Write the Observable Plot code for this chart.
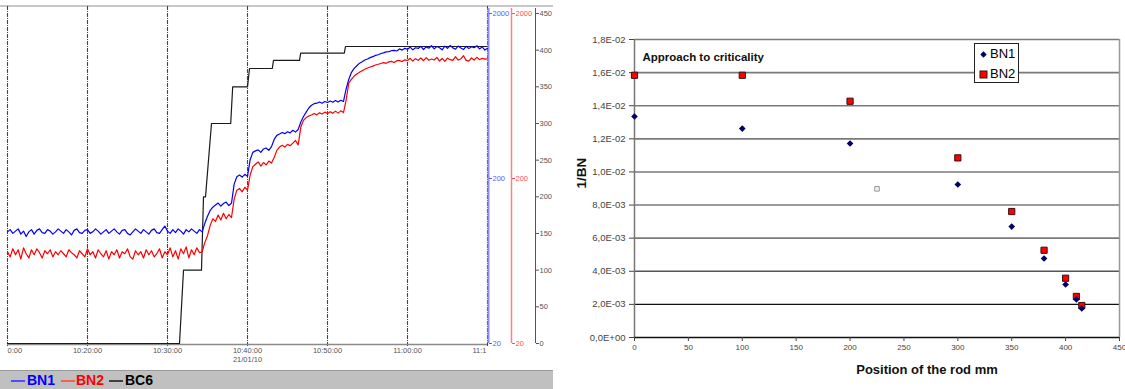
<!DOCTYPE html>
<html><head><meta charset="utf-8">
<script src="https://cdn.jsdelivr.net/npm/d3@7"></script>
<script src="https://cdn.jsdelivr.net/npm/@observablehq/plot@0.6"></script>
<style>
html,body{margin:0;padding:0;background:#fff;}
body{width:1125px;height:389px;position:relative;overflow:hidden;font-family:"Liberation Sans",Arial,sans-serif;}
#left{position:absolute;left:0;top:0;width:553px;height:389px;}
#left svg{position:absolute;left:0;top:0;}
#topline{position:absolute;left:0;top:5px;width:553px;height:2px;background:#c8c8c8;}
#band{position:absolute;left:0;top:370px;width:553px;height:19px;background:#c0c0c0;border-top:1px solid #9a9a9a;box-sizing:border-box;}
#band .ln{position:absolute;top:9px;height:1.5px;width:14px;}
#band .tx{position:absolute;top:1px;font-weight:bold;font-size:14px;line-height:16px;}
#right{position:absolute;left:553px;top:0;width:572px;height:389px;}
#right svg{position:absolute;left:0;top:0;}
#legend{position:absolute;left:974px;top:43px;width:45px;height:40px;border:1px solid #222;background:#fff;box-sizing:border-box;font-size:13px;color:#000;}
#legend .row{position:absolute;left:4px;height:16px;line-height:16px;}
#legend svg{vertical-align:middle;margin-right:2px;}
</style></head>
<body>
<div id="left"><div id="topline"></div><div id="band"></div></div>
<div id="right"></div>
<div id="legend"></div>
<script>
// ---------- Left chart data ----------
const xTickTimes = ["10:10:00","10:20:00","10:30:00","10:40:00","10:50:00","11:00:00","11:10:00"];
const xTickLabels = ["0:00","10:20:00","10:30:00","10:40:00","10:50:00","11:00:00","11:1"];
const dateLabel = "21/01/10";
const sampleStart = "10:10:00";
const sampleStepSeconds = 20;
const bn1Counts = [
 95,98,93,96,99,92,96,89,95,98,
 92,97,99,94,93,98,96,92,95,99,
 96,93,98,95,91,97,99,94,93,97,
 98,93,95,99,96,92,95,98,93,96,
 99,95,92,97,98,93,91,95,99,96,
 93,98,95,92,97,99,94,93,98,103,
 96,93,98,94,99,96,92,98,95,99,
 96,93,98,95,107,118,128,134,138,142,
 136,141,144,137,142,185,205,210,204,212,
 206,260,288,294,298,288,302,306,296,312,
 345,365,372,380,374,384,378,392,382,396,
 440,475,505,535,556,568,572,582,572,586,
 578,590,580,594,582,596,586,700,800,880,
 930,965,1000,1020,1045,1060,1080,1095,1115,1125,
 1145,1155,1170,1175,1190,1195,1185,1220,1200,1230,
 1215,1250,1205,1240,1228,1265,1210,1255,1232,1275,
 1220,1262,1240,1205,1268,1230,1280,1238,1215,1270,
 1235,1210,1265,1225,1258,1240,1275,1220,1255,1200,
 1230];
const bn2Counts = [
 72,67,75,69,74,65,76,70,66,74,
 69,75,71,66,73,70,74,67,72,69,
 73,70,67,74,71,69,66,73,70,67,
 75,69,72,66,74,70,67,73,65,72,
 69,74,66,72,70,75,67,65,73,69,
 72,66,74,69,73,67,70,75,66,72,
 69,76,67,73,65,75,70,77,66,74,
 69,76,71,72,82,90,104,114,110,120,
 112,123,114,121,116,150,170,174,166,177,
 170,210,236,244,252,238,250,242,255,248,
 268,296,310,318,310,322,316,328,340,320,
 410,450,468,478,485,495,486,500,492,505,
 495,508,497,512,498,514,502,600,760,800,
 835,860,880,900,918,935,948,960,975,985,
 996,1008,998,1018,1025,1010,1035,1038,1022,1048,
 1038,1070,1030,1065,1040,1075,1035,1080,1042,1060,
 1045,1085,1030,1068,1025,1072,1050,1040,1095,1045,
 1060,1110,1040,1030,1075,1045,1085,1050,1070,1058,
 1062];
const bc6Times = ["10:10:00","10:31:30","10:32:00","10:34:15","10:34:30","10:34:45","10:35:30","10:37:54","10:38:09","10:40:00","10:40:15","10:43:06","10:43:15","10:46:30","10:46:39","10:52:06","10:52:15","11:10:00"];
const bc6Values = [0,0,100,100,200,200,300,300,350,350,375,375,386,386,396,396,405,405];
const logTicks = [20,200,2000];
const bc6Ticks = [0,50,100,150,200,250,300,350,400,450];
const seriesNames = ["BN1","BN2","BC6"];
const seriesColors = ["#0000ff","#ff0000","#1a1a1a"];

// ---------- Right chart data ----------
const rodPosition = [0,100,200,300,350,380,400,410,415];
const invBN1 = [0.01335,0.01262,0.01172,0.00924,0.00670,0.00477,0.00320,0.00230,0.00175];
const invBN2 = [0.01584,0.01584,0.01427,0.01085,0.00761,0.00527,0.00358,0.00248,0.00193];
const strayPosition = [225];
const strayValue = [0.00898];
const yTicks = [0,0.002,0.004,0.006,0.008,0.010,0.012,0.014,0.016,0.018];
const yTickLabels = ["0,0E+00","2,0E-03","4,0E-03","6,0E-03","8,0E-03","1,0E-02","1,2E-02","1,4E-02","1,6E-02","1,8E-02"];
const xTicks = [0,50,100,150,200,250,300,350,400,450];
const chartTitle = "Approach to criticality";
const yTitle = "1/BN";
const xTitle = "Position of the rod mm";

// ---------- Left chart ----------
const parseT = s => new Date(`2010-01-21T${s}Z`);
const t0 = parseT(sampleStart);
const MIN = 60000;
const tickDates = xTickTimes.map(parseT);
const tickLabelData = tickDates.map((t,i)=>({t, label:xTickLabels[i]}));
const bn1 = bn1Counts.map((v,i)=>({t:new Date(+t0 + i*sampleStepSeconds*1000), v}));
const bn2 = bn2Counts.map((v,i)=>({t:new Date(+t0 + i*sampleStepSeconds*1000), v}));
const bc6 = bc6Times.map((s,i)=>({t:parseT(s), v:bc6Values[i]}));
const font = "Liberation Sans, Arial, sans-serif";
const common = {width:553, height:368, marginLeft:7, marginTop:13, marginBottom:25,
  style:{background:"transparent", fontFamily:font, overflow:"visible"}};
const tEnd = tickDates[tickDates.length-1];
const lblOpts = {x:"t", text:"label", frameAnchor:"bottom", dy:9, fontSize:7.5, fill:"#555"};

const svgA = Plot.plot({...common, marginRight:18,
  x:{type:"utc", domain:[t0, new Date(+t0 + 66*MIN)], axis:null},
  y:{domain:[0,450]},
  marks:[
    Plot.ruleX(tickDates, {stroke:"#444", strokeWidth:1.1, strokeDasharray:"4,1,1,1", insetTop:-7, insetBottom:-4}),
    Plot.ruleY([0], {x1:t0, x2:tEnd, stroke:"#8a8a8a", strokeWidth:1.5, dy:1}),
    Plot.text(tickLabelData.slice(0,1), {...lblOpts, textAnchor:"start"}),
    Plot.text(tickLabelData.slice(1,-1), {...lblOpts, textAnchor:"middle"}),
    Plot.text(tickLabelData.slice(-1), {...lblOpts, textAnchor:"end", dx:-1}),
    Plot.text([dateLabel], {text:d=>d, x:tickDates[3], frameAnchor:"bottom", dy:18.5, fontSize:7.5, fill:"#555"}),
    Plot.ruleX([new Date(+t0 + 66*MIN)], {stroke:"#555", strokeWidth:1, insetTop:-5}),
    Plot.axisY(bc6Ticks, {anchor:"right", tickSize:3, tickPadding:1, fontSize:7.5, color:"#555", label:null}),
    Plot.line(bc6, {x:"t", y:"v", stroke:seriesColors[2], strokeWidth:1.2})
  ]});
const svgC = Plot.plot({...common, marginRight:42,
  x:{type:"utc", domain:[t0, new Date(+t0 + 63*MIN)], axis:null},
  y:{type:"log", domain:[20,2000]},
  marks:[
    Plot.ruleX([new Date(+t0 + 63*MIN)], {stroke:"#ff8080", strokeWidth:1.5, insetTop:-5}),
    Plot.axisY(logTicks, {anchor:"right", tickSize:3, tickPadding:1, fontSize:7.5, color:"#ff5050", label:null, tickFormat:d=>String(d)}),
    Plot.line(bn2, {x:"t", y:"v", stroke:seriesColors[1], strokeWidth:1.2})
  ]});
const svgB = Plot.plot({...common, marginRight:66,
  x:{type:"utc", domain:[t0, tEnd], axis:null},
  y:{type:"log", domain:[20,2000]},
  marks:[
    Plot.ruleX([tEnd], {stroke:"#8c8cff", strokeWidth:2, insetTop:-5, dx:1}),
    Plot.axisY(logTicks, {anchor:"right", tickSize:3, tickPadding:1, fontSize:7.5, color:"#5a5aff", label:null, tickFormat:d=>String(d), dx:1}),
    Plot.line(bn1, {x:"t", y:"v", stroke:seriesColors[0], strokeWidth:1.2})
  ]});
const left = document.getElementById("left");
left.appendChild(svgA); left.appendChild(svgC); left.appendChild(svgB);

// legend band
{
  const band = document.getElementById("band");
  const lx = [11,61,109], tx = [27,76,125];
  const lineCols = ["#4d4dff","#ff5a5a","#404040"];
  seriesNames.forEach((n,i)=>{
    const l = document.createElement("div"); l.className="ln";
    l.style.left = lx[i]+"px"; l.style.background = lineCols[i]; band.appendChild(l);
    const t = document.createElement("div"); t.className="tx";
    t.style.left = tx[i]+"px"; t.style.color = i===2 ? "#000" : seriesColors[i]; t.textContent = n;
    band.appendChild(t);
  });
}

// ---------- Right chart ----------
const pts1 = rodPosition.map((x,i)=>({x, y:invBN1[i]}));
const pts2 = rodPosition.map((x,i)=>({x, y:invBN2[i]}));
const stray = strayPosition.map((x,i)=>({x, y:strayValue[i]}));
const yLab = new Map(yTicks.map((d,i)=>[d, yTickLabels[i]]));
const diamond = d3.symbolDiamond2 || d3.symbolDiamond;
const svgR = Plot.plot({
  width:572, height:389, marginLeft:81, marginRight:6, marginTop:39, marginBottom:52,
  style:{background:"transparent", fontFamily:font, overflow:"visible"},
  x:{domain:[0,450]},
  y:{domain:[0,0.018]},
  marks:[
    Plot.ruleY(yTicks.filter(d=>d>=0.006), {stroke:"#7a7a7a", strokeWidth:1.6}),
    Plot.ruleY([0.004], {stroke:"#555", strokeWidth:1.4}),
    Plot.ruleY([0.002], {stroke:"#111", strokeWidth:1.3}),
    Plot.ruleX([0], {stroke:"#777", strokeWidth:1.5}),
    Plot.ruleX([450], {stroke:"#999", strokeWidth:1.5}),
    Plot.ruleY([0], {stroke:"#111", strokeWidth:1.6}),
    Plot.axisY(yTicks, {tickSize:5, tickPadding:4, fontSize:9.5, color:"#444", label:null, tickFormat:d=>yLab.get(d)}),
    Plot.axisX(xTicks, {tickSize:4, tickPadding:3, fontSize:8, color:"#444", label:null}),
    Plot.dot(stray, {x:"x", y:"y", symbol:"square", r:2.6, fill:"#eeeeee", stroke:"#999", strokeWidth:1}),
    Plot.dot(pts2, {x:"x", y:"y", symbol:"square", r:3.5, fill:"#ff0000", stroke:"#3a1010", strokeWidth:1}),
    Plot.dot(pts1, {x:"x", y:"y", symbol:diamond, r:3, fill:"#000066", stroke:"none"}),
    Plot.text([chartTitle], {text:d=>d, frameAnchor:"top-left", textAnchor:"start", dx:8, dy:13, fontSize:11.5, fontWeight:"bold", fill:"#111"}),
    Plot.text([yTitle], {text:d=>d, frameAnchor:"left", dx:-53, rotate:-90, fontSize:13.5, fontWeight:"bold", fill:"#111"}),
    Plot.text([xTitle], {text:d=>d, frameAnchor:"bottom", dx:50, dy:36, fontSize:13, fontWeight:"bold", fill:"#111"})
  ]});
document.getElementById("right").appendChild(svgR);

// legend box for right chart
{
  const lg = document.getElementById("legend");
  const rows = [
    {name:"BN1", svg:'<svg width="9" height="9"><path d="M4.5,1.3L7.7,4.5L4.5,7.7L1.3,4.5Z" fill="#000066"/></svg>'},
    {name:"BN2", svg:'<svg width="9" height="9"><rect x="1" y="1" width="7" height="7" fill="#ff0000" stroke="#3a1010" stroke-width="1"/></svg>'}
  ];
  rows.forEach((r,i)=>{
    const d = document.createElement("div"); d.className="row"; d.style.top = (2+i*20)+"px";
    d.innerHTML = r.svg + "<span>"+r.name+"</span>";
    lg.appendChild(d);
  });
}
</script>
</body></html>
